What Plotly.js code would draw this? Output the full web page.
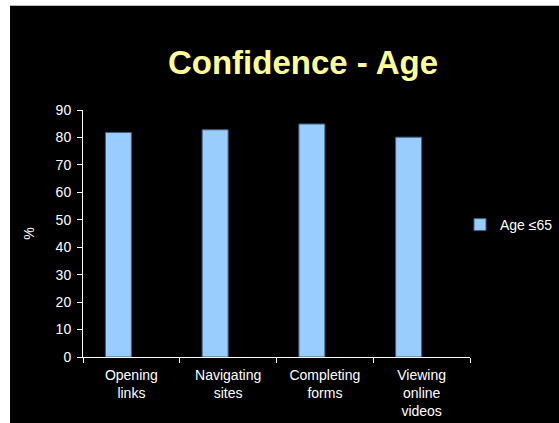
<!DOCTYPE html>
<html>
<head>
<meta charset="utf-8">
<script src="https://cdn.plot.ly/plotly-3.0.1.min.js"></script>
<style>
html,body{margin:0;padding:0;background:#fff;}
#wrap{position:absolute;left:0;top:0;width:559px;height:423px;background:#fff;}
#chart{position:absolute;left:10px;top:5px;width:549px;height:418px;border-top:1px solid #bbb;box-sizing:border-box;}
</style>
</head>
<body>
<div id="wrap"><div id="chart"></div></div>
<script>
const categories = ["Opening<br>links", "Navigating<br>sites", "Completing<br>forms", "Viewing<br>online<br>videos"];
const seriesName = "Age \u226465";
const ageUnder65 = [81.8, 82.8, 84.9, 80.1];
const ageOver65 = [0, 0, 0, 0];
const yTicks = [0, 10, 20, 30, 40, 50, 60, 70, 80, 90];

const traces = [
  {
    type: "bar", x: categories, y: ageUnder65, name: seriesName,
    marker: {color: "#99CCFF", line: {color: "#3d5f80", width: 1}},
    showlegend: true
  },
  {
    type: "bar", x: categories, y: ageOver65, name: "hidden",
    marker: {color: "rgba(0,0,0,0)", line: {width: 0}},
    showlegend: false, hoverinfo: "skip"
  }
];

const layout = {
  width: 549, height: 418,
  paper_bgcolor: "#000", plot_bgcolor: "#000",
  margin: {l: 73, r: 89, t: 104, b: 67, autoexpand: false},
  font: {family: "Liberation Sans, Arial, sans-serif", color: "#fff", size: 14},
  title: {
    text: "<b>Confidence - Age</b>",
    font: {family: "Liberation Sans, Arial, sans-serif", size: 33, color: "#FFFF99"},
    x: (303 - 10) / 549, xanchor: "center", xref: "container",
    y: 1 - (61 - 5) / 418, yanchor: "middle", yref: "container"
  },
  barmode: "group", bargap: 0.463, bargroupgap: 0,
  xaxis: {
    type: "category", showline: true, linecolor: "#fff", linewidth: 1,
    ticks: "outside", tickson: "boundaries", ticklen: 5, tickcolor: "#fff",
    showgrid: false, zeroline: false, ticklabelstandoff: 5,
    tickfont: {size: 14, color: "#fff"}
  },
  yaxis: {
    range: [0, 90], tickvals: yTicks, showline: true, linecolor: "#fff", linewidth: 1,
    ticks: "outside", ticklen: 5, tickcolor: "#fff",
    showgrid: false, zeroline: false, ticklabelstandoff: 3,
    tickfont: {size: 14, color: "#fff"},
    title: {text: "%", font: {size: 14, color: "#fff"}, standoff: 17}
  },
  legend: {
    xref: "container", x: (460 - 10) / 549, xanchor: "left",
    yref: "container", y: 1 - (224 - 5) / 418, yanchor: "middle",
    font: {size: 14, color: "#fff"}, bgcolor: "rgba(0,0,0,0)",
    itemwidth: 30
  },
  showlegend: true
};

Plotly.newPlot("chart", traces, layout, {displayModeBar: false, staticPlot: true});
</script>
</body>
</html>
